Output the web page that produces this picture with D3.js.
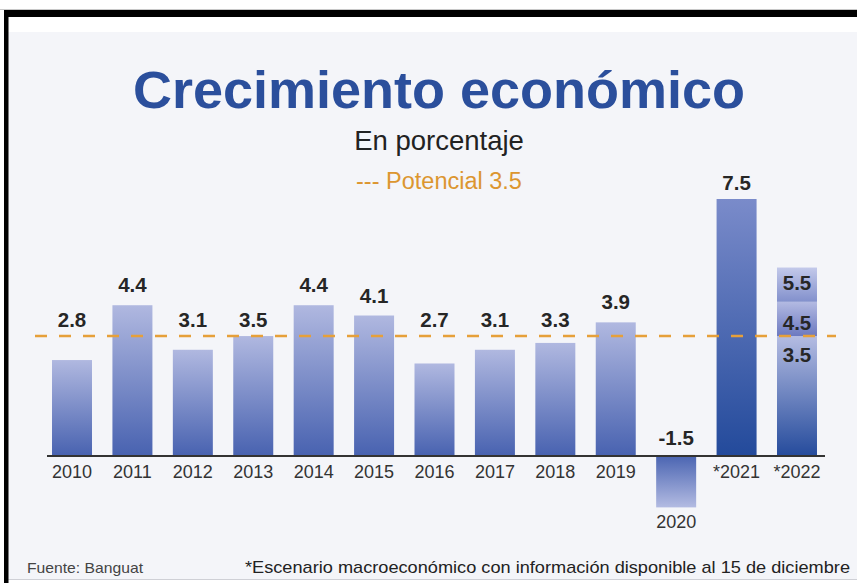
<!DOCTYPE html>
<html>
<head>
<meta charset="utf-8">
<script src="https://cdn.jsdelivr.net/npm/d3@7"></script>
<style>
  html, body { margin: 0; padding: 0; background: #ffffff; }
  svg { display: block; }
</style>
</head>
<body>
<svg id="chart" width="857" height="583"></svg>
<script>
// Crecimiento económico de Guatemala, en porcentaje
const years = ["2010", "2011", "2012", "2013", "2014", "2015", "2016", "2017", "2018", "2019", "2020", "*2021", "*2022"];
const growth = [2.8, 4.4, 3.1, 3.5, 4.4, 4.1, 2.7, 3.1, 3.3, 3.9, -1.5, 7.5, 3.5];
// Rango del escenario 2022 (bandas sobre la base)
const range2022 = [3.5, 4.5, 5.5];
const potential = 3.5;

const title = "Crecimiento económico";
const subtitle = "En porcentaje";
const legendText = "--- Potencial 3.5";
const sourceText = "Fuente: Banguat";
const noteText = "*Escenario macroeconómico con información disponible al 15 de diciembre";

const svg = d3.select("#chart");
const W = 857, H = 583;
const font = "'Liberation Sans', Arial, sans-serif";

// Marco y fondo
svg.append("rect").attr("x", 0).attr("y", 0).attr("width", W).attr("height", H).attr("fill", "#ffffff");
svg.append("rect").attr("x", 8).attr("y", 32).attr("width", W - 8).attr("height", 547).attr("fill", "#f4f5f9");
svg.append("line").attr("x1", 8).attr("x2", W).attr("y1", 579.5).attr("y2", 579.5).attr("stroke", "#cfd0d6").attr("stroke-width", 1);
svg.append("line").attr("x1", 0).attr("x2", W).attr("y1", 9.5).attr("y2", 9.5).attr("stroke", "#c8c8c8").attr("stroke-width", 1);
svg.append("rect").attr("x", 4).attr("y", 10).attr("width", W - 4).attr("height", 7).attr("fill", "#000000");
svg.append("rect").attr("x", 4).attr("y", 10).attr("width", 4.5).attr("height", H - 10).attr("fill", "#000000");

// Gradientes
const defs = svg.append("defs");
function grad(id, top, bottom) {
  const g = defs.append("linearGradient").attr("id", id)
    .attr("x1", 0).attr("y1", 0).attr("x2", 0).attr("y2", 1);
  g.append("stop").attr("offset", "0%").attr("stop-color", top);
  g.append("stop").attr("offset", "100%").attr("stop-color", bottom);
}
grad("g-hist", "#b0b8e0", "#4862b0");
grad("g-neg", "#4b65b2", "#b3bbe2");
grad("g-2021", "#7a8bca", "#234a9b");
grad("g-2022", "#b4bce2", "#254b9c");
grad("g-2022a", "#b3bae2", "#6c79c0");
grad("g-2022b", "#c3c9ea", "#8290cc");

// Escalas
const x = d3.scaleBand().domain(years).range([41.8, 827.2]).paddingInner(0.338).paddingOuter(0.169);
const y = d3.scaleLinear().domain([-1.5, 7.5]).range([507.4, 199]);
const y0 = y(0);

// Títulos
svg.append("text").attr("x", 439).attr("y", 108).attr("text-anchor", "middle")
  .attr("font-family", font).attr("font-weight", "bold").attr("font-size", 51)
  .attr("fill", "#2b4f9c").attr("textLength", 612).attr("lengthAdjust", "spacingAndGlyphs")
  .text(title);
svg.append("text").attr("x", 439).attr("y", 150).attr("text-anchor", "middle")
  .attr("font-family", font).attr("font-size", 27.5).attr("fill", "#222222")
  .text(subtitle);
svg.append("text").attr("x", 439).attr("y", 189).attr("text-anchor", "middle")
  .attr("font-family", font).attr("font-size", 23.5).attr("fill", "#dc9630")
  .text(legendText);

// Barras
const bars = years.map((yr, i) => ({ year: yr, value: growth[i] }));
svg.append("g").selectAll("rect").data(bars).join("rect")
  .attr("x", d => x(d.year))
  .attr("width", x.bandwidth())
  .attr("y", d => Math.min(y(d.value), y0))
  .attr("height", d => Math.abs(y(d.value) - y0))
  .attr("fill", d => d.value < 0 ? "url(#g-neg)"
    : d.year === "*2021" ? "url(#g-2021)"
    : d.year === "*2022" ? "url(#g-2022)" : "url(#g-hist)");

// Bandas del rango 2022
const bands = d3.pairs(range2022).map(([a, b], i) => ({ lo: a, hi: b, id: i === 0 ? "g-2022a" : "g-2022b" }));
svg.append("g").selectAll("rect").data(bands).join("rect")
  .attr("x", x("*2022"))
  .attr("width", x.bandwidth())
  .attr("y", d => y(d.hi))
  .attr("height", d => y(d.lo) - y(d.hi))
  .attr("fill", d => `url(#${d.id})`);

// Línea de crecimiento potencial
svg.append("line")
  .attr("x1", 35).attr("x2", 836)
  .attr("y1", y(potential)).attr("y2", y(potential))
  .attr("stroke", "#e6a03a").attr("stroke-width", 2.5)
  .attr("stroke-dasharray", "12,12");

// Eje horizontal
svg.append("line").attr("x1", 47).attr("x2", 825).attr("y1", y0).attr("y2", y0)
  .attr("stroke", "#333333").attr("stroke-width", 2);

const xAxis = d3.axisBottom(x).tickSize(0).tickPadding(0);
const ax = svg.append("g").attr("transform", `translate(0,${y0})`).call(xAxis);
ax.select(".domain").remove();
ax.selectAll("text")
  .attr("font-family", font).attr("font-size", 18).attr("fill", "#333333")
  .attr("dy", null)
  .attr("y", d => d === "2020" ? y(-1.5) - y0 + 21 : 22);

// Etiquetas de valor (guion simple para negativos)
const fmt = v => d3.format(".1f")(v).replace("\u2212", "-");
const yPot = y(potential);
svg.append("g").selectAll("text").data(bars.filter(d => d.year !== "*2022")).join("text")
  .attr("x", d => x(d.year) + x.bandwidth() / 2)
  .attr("y", d => d.value < 0 ? y0 - 11 : Math.min(y(d.value), yPot) - (y(d.value) < yPot - 5 && d.value < 7 ? 13 : 9))
  .attr("text-anchor", "middle")
  .attr("font-family", font).attr("font-weight", "bold").attr("font-size", 20.5)
  .attr("fill", "#262626")
  .text(d => fmt(d.value));

// Etiquetas del rango 2022
const cx22 = x("*2022") + x.bandwidth() / 2;
const rangeLabels = [
  { v: range2022[0], ly: y(range2022[0]) + 26 },
  { v: range2022[1], ly: (y(range2022[0]) + y(range2022[1])) / 2 + 11 },
  { v: range2022[2], ly: (y(range2022[1]) + y(range2022[2])) / 2 + 5 }
];
svg.append("g").selectAll("text").data(rangeLabels).join("text")
  .attr("x", cx22).attr("y", d => d.ly)
  .attr("text-anchor", "middle")
  .attr("font-family", font).attr("font-weight", "bold").attr("font-size", 20.5)
  .attr("fill", "#262626")
  .text(d => fmt(d.v));

// Notas al pie
svg.append("text").attr("x", 27).attr("y", 573)
  .attr("font-family", font).attr("font-size", 15).attr("fill", "#444444")
  .attr("textLength", 116).attr("lengthAdjust", "spacingAndGlyphs")
  .text(sourceText);
svg.append("text").attr("x", 245).attr("y", 573)
  .attr("font-family", font).attr("font-size", 17).attr("fill", "#222222")
  .attr("textLength", 605).attr("lengthAdjust", "spacingAndGlyphs")
  .text(noteText);
</script>
</body>
</html>
